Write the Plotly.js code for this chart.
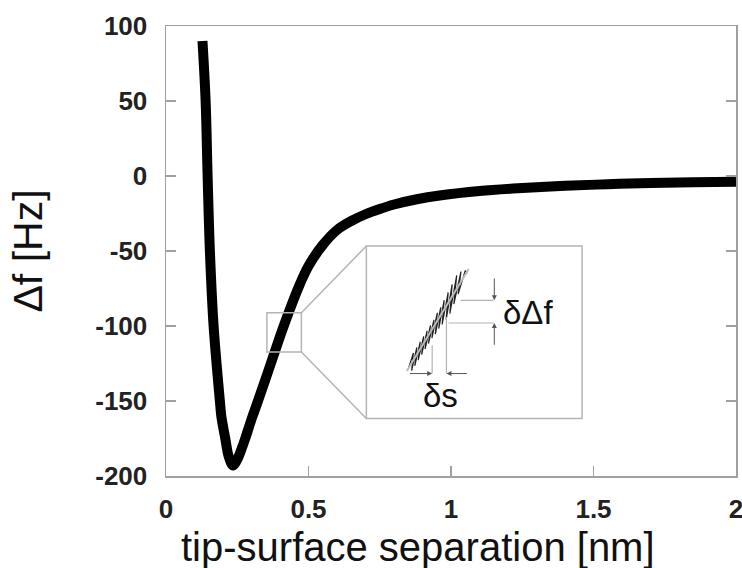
<!DOCTYPE html>
<html>
<head>
<meta charset="utf-8">
<script src="https://cdn.plot.ly/plotly-3.0.1.min.js"></script>
<style>html,body{margin:0;padding:0;background:#fff;}#chart{width:742px;height:568px;}</style>
</head>
<body>
<div id="chart"></div>
<script>
// Main curve: tip-surface separation [nm] vs frequency shift [Hz]
const separation = [0.128, 0.139, 0.146, 0.154, 0.167, 0.19, 0.194, 0.208, 0.22, 0.235, 0.25, 0.265, 0.278, 0.302, 0.319, 0.366, 0.413, 0.47, 0.50, 0.55, 0.60, 0.65, 0.70, 0.75, 0.80, 0.88, 0.96, 1.10, 1.25, 1.40, 1.55, 1.70, 1.85, 2.0];
const freqShift  = [90, 50, 0, -50, -100, -152, -160, -175, -187, -193, -189, -182, -175, -161, -152, -126, -100, -72, -60, -46, -36, -30, -25.5, -22, -19, -15.5, -13, -10, -8, -6.5, -5.5, -4.6, -4.2, -3.8];

// Inset: noisy zoomed segment (schematic)
const insetX = [0.851,0.868,0.862,0.880,0.873,0.892,0.885,0.904,0.897,0.916,0.909,0.928,0.921,0.940,0.933,0.952,0.945,0.964,0.957,0.976,0.969,0.990,0.983,1.004,0.996,1.020,1.010,1.035,1.025,1.050,1.057];
const insetY = [-128.2,-118,-129.8,-114.3,-126.5,-110.6,-122.8,-106.9,-119.1,-103.3,-115.4,-99.6,-111.7,-95.9,-108.0,-91.2,-105.4,-87.5,-101.7,-82.8,-99.0,-77.6,-95.7,-72.3,-91.7,-66.3,-85.4,-63.7,-78.8,-63.1,-65.0];

const xTicks = [0, 0.5, 1, 1.5, 2];
const xTickLabels = ['0', '0.5', '1', '1.5', '2'];
const yTicks = [100, 50, 0, -50, -100, -150, -200];
const yTickLabels = ['100', '50', '0', '-50', '-100', '-150', '-200'];

const gray = '#b4b4b4';
const axisGray = '#a0a0a0';

const traces = [
  {x: separation, y: freqShift, mode: 'lines', line: {color: '#000', width: 10, shape: 'spline', smoothing: 1}, hoverinfo: 'skip'},
  {x: insetX, y: insetY, mode: 'lines', line: {color: '#222', width: 1.2}, hoverinfo: 'skip'}
];

function ln(x0, y0, x1, y1, color, w) {
  return {type: 'line', xref: 'x', yref: 'y', x0: x0, y0: y0, x1: x1, y1: y1, line: {color: color, width: w}};
}

const shapes = [
  {type: 'rect', xref: 'x', yref: 'y', x0: 0.354, x1: 0.475, y0: -91.1, y1: -117.4, line: {color: gray, width: 1.5}},
  {type: 'rect', xref: 'x', yref: 'y', x0: 0.703, x1: 1.46, y0: -46.7, y1: -161.7, line: {color: gray, width: 1.5}},
  ln(0.475, -91.1, 0.703, -46.7, gray, 1.5),
  ln(0.475, -117.4, 0.703, -161.7, gray, 1.5),
  ln(0.845, -130, 1.062, -62, '#bbbbbb', 2),
  ln(1.034, -82.9, 1.149, -82.9, gray, 1.2),
  ln(0.991, -98.0, 1.149, -98.0, gray, 1.2),
  ln(0.934, -112.9, 0.934, -131.7, gray, 1.2),
  ln(0.984, -94.0, 0.984, -131.7, gray, 1.2)
];

function arr(x, y, ax, ay) {
  return {x: x, y: y, ax: ax, ay: ay, xref: 'x', yref: 'y', axref: 'x', ayref: 'y', text: '', showarrow: true, arrowhead: 2, arrowsize: 1, arrowwidth: 1, arrowcolor: '#555'};
}

const annotations = [
  arr(1.152, -82.9, 1.152, -67.3),
  arr(1.152, -98.0, 1.152, -113.5),
  arr(0.934, -131.7, 0.851, -131.7),
  arr(0.984, -131.7, 1.061, -131.7),
  {x: 1.27, y: -91, xref: 'x', yref: 'y', text: 'δΔf', showarrow: false, font: {family: 'Liberation Sans, Arial, sans-serif', size: 33, color: '#111'}},
  {x: 0.963, y: -146, xref: 'x', yref: 'y', text: 'δs', showarrow: false, font: {family: 'Liberation Sans, Arial, sans-serif', size: 33, color: '#111'}},
  // x-axis title (placed as in the reference, slightly left of the axis centre)
  {x: 0.442, y: -0.158, xref: 'paper', yref: 'paper', xanchor: 'center', yanchor: 'middle', text: 'tip-surface separation [nm]', showarrow: false, font: {family: 'Liberation Sans, Arial, sans-serif', size: 40, color: '#111'}}
];

const layout = {
  width: 742, height: 568,
  margin: {l: 166, r: 6, t: 26, b: 92},
  paper_bgcolor: '#fff', plot_bgcolor: '#fff',
  showlegend: false,
  font: {family: 'Liberation Sans, Arial, sans-serif', color: '#222'},
  xaxis: {
    range: [0, 2], tickvals: xTicks, ticktext: xTickLabels,
    ticks: 'inside', ticklen: 10, tickcolor: axisGray, tickwidth: 1.2,
    showline: true, linecolor: axisGray, linewidth: 1.5, mirror: true,
    showgrid: false, zeroline: false, automargin: false,
    tickfont: {size: 26, weight: 'bold', color: '#222'},
    ticklabelstandoff: 9, ticklabeloverflow: 'allow'
  },
  yaxis: {
    range: [-200, 100], tickvals: yTicks, ticktext: yTickLabels,
    ticks: 'inside', ticklen: 10, tickcolor: axisGray, tickwidth: 1.2,
    showline: true, linecolor: axisGray, linewidth: 1.5, mirror: 'ticks',
    showgrid: false, zeroline: false, automargin: false,
    tickfont: {size: 26, weight: 'bold', color: '#222'},
    ticklabelstandoff: 12,
    title: {text: 'Δf [Hz]', font: {size: 41, color: '#111'}, standoff: 40}
  },
  shapes: shapes,
  annotations: annotations
};

Plotly.newPlot('chart', traces, layout, {displayModeBar: false, staticPlot: true});
</script>
</body>
</html>
